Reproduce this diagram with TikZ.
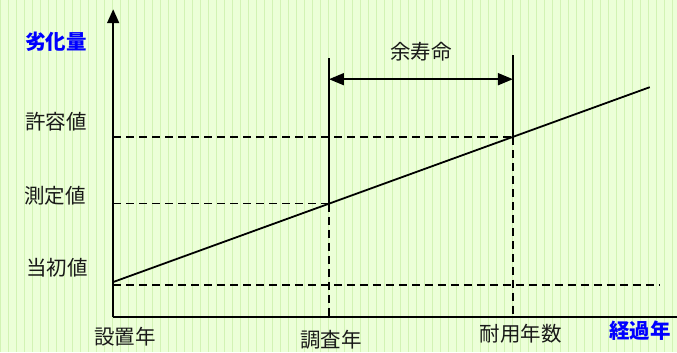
\documentclass[tikz,border=0pt]{standalone}
\usepackage{fontspec}
\setmainfont{Noto Sans CJK JP}
\usetikzlibrary{arrows.meta}
\definecolor{bg}{RGB}{236,255,216}
\definecolor{gridc}{RGB}{210,243,180}
\definecolor{lblue}{RGB}{0,0,255}
\begin{document}
\begin{tikzpicture}[x=1pt,y=-1pt,
  lbl/.style={font=\fontsize{20.5}{22}\selectfont, inner sep=0pt, text=black!90},
  blbl/.style={font=\fontsize{20.5}{22}\selectfont\bfseries, inner sep=0pt, text=lblue},
  ax/.style={line width=1.8pt},
  dsh/.style={line width=1.6pt, dash pattern=on 8pt off 5pt},
  head/.style={-{Triangle[length=14pt,width=12pt]}}]
\fill[bg] (0,0) rectangle (677,352);
\draw[gridc, line width=0.5pt] (0,0) grid[step=8] (677,352);
\useasboundingbox (0,0) rectangle (677,352);
% points
\coordinate (O) at (113,317);
\coordinate (Ytop) at (113,9);
\coordinate (Xend) at (677,317);
\coordinate (A) at (113,282);
\coordinate (B) at (650,87);
\coordinate (M) at (329,203.6);
\coordinate (T) at (513,136.7);
\coordinate (Mtop) at (329,58);
\coordinate (Ttop) at (513,55);
\coordinate (Mbot) at (329,317);
\coordinate (Tbot) at (513,317);
\coordinate (Mleft) at (113,203.6);
\coordinate (Tleft) at (113,136.7);
\coordinate (Il) at (113,285);
\coordinate (Ir) at (660,285);
\coordinate (Ra) at (329,79);
\coordinate (Rb) at (513,79);
% axes
\draw[ax,head] (O) -- (Ytop);
\draw[ax] (O) -- (Xend);
% dashed guides
\draw[dsh] (Il) -- (Ir);
\draw[dsh] (Mleft) -- (M);
\draw[dsh] (Tleft) -- (T);
\draw[dsh] (M) -- (Mbot);
\draw[dsh] (T) -- (Tbot);
% solid verticals
\draw[ax] (Mtop) -- (M);
\draw[ax] (Ttop) -- (T);
% degradation line
\draw[ax] (A) -- (B);
% remaining life arrow
\draw[ax,{Triangle[length=15pt,width=12pt]}-{Triangle[length=15pt,width=12pt]}] (Ra) -- (Rb);
% labels
\node[blbl] (yl) at (56,42) {劣化量};
\node[lbl] (l1) at (56,122) {許容値};
\node[lbl] (l2) at (55,196) {測定値};
\node[lbl] (l3) at (57,268) {当初値};
\node[lbl] (x1) at (125,337) {設置年};
\node[lbl] (x2) at (331,340) {調査年};
\node[lbl] (x3) at (521,334) {耐用年数};
\node[blbl] (xl) at (640,331) {経過年};
\node[lbl] (rl) at (421,52) {余寿命};
\end{tikzpicture}
\end{document}
